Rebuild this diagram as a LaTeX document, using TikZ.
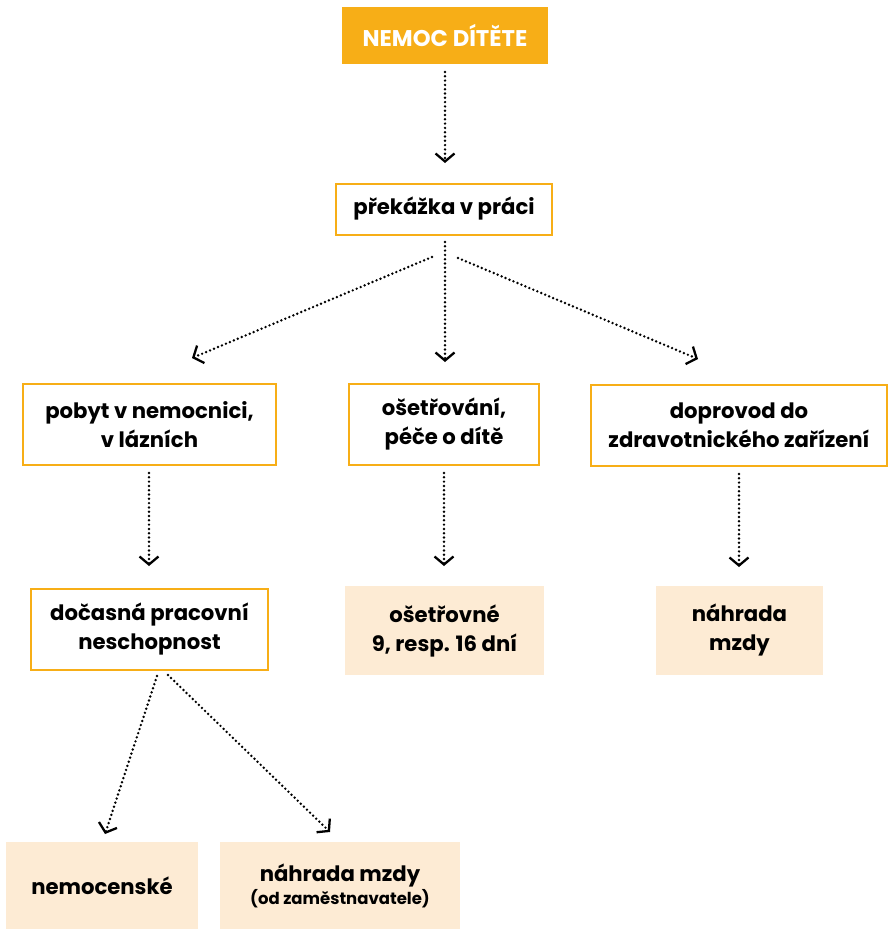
\documentclass[tikz,border=0pt]{standalone}
\usepackage{fontspec}
\setmainfont{Poppins}
\usetikzlibrary{arrows.meta}
\definecolor{orng}{HTML}{F7AE17}
\definecolor{peach}{HTML}{FDEBD4}
\begin{document}
\begin{tikzpicture}[x=1pt,y=-1pt,
  base/.style={inner sep=0pt, align=center, font=\bfseries\fontsize{21.2}{29}\selectfont},
  obox/.style={base, draw=orng, line width=2pt, fill=white},
  fbox/.style={base, fill=peach},
  tbox/.style={base, fill=orng, text=white, font=\bfseries\fontsize{22.7}{28}\selectfont},
  arr/.style={line width=2.7pt, line cap=round, dash pattern=on 0pt off 4.3pt,
     -{Straight Barb[length=8pt,width=19pt,line width=2.3pt,line cap=butt]}}]
\useasboundingbox (0,0) rectangle (889,929);
\fill[white] (0,0) rectangle (889,929);
\node[tbox, minimum width=206, minimum height=57] (nemoc) at (445,35.5) {NEMOC DÍTĚTE};
\node[obox, minimum width=216, minimum height=51] (prek) at (444,209) {překážka v práci};
\node[obox, minimum width=253, minimum height=81] (pobyt) at (149.5,424.5) {pobyt v nemocnici,\\v lázních};
\node[obox, minimum width=190, minimum height=81] (oset) at (444,424.5) {ošetřování,\\péče o dítě};
\node[obox, minimum width=296, minimum height=81] (dopr) at (739,425) {doprovod do\\zdravotnického zařízení};
\node[obox, minimum width=237, minimum height=81] (docas) at (149.5,629.5) {dočasná pracovní\\neschopnost};
\node[fbox, minimum width=199, minimum height=89] (osetne) at (444.5,630.5) {ošetřovné\\9, resp. 16 dní};
\node[fbox, minimum width=167, minimum height=89] (nahr) at (739.5,630.5) {náhrada\\mzdy};
\node[fbox, minimum width=192, minimum height=87] (nemcen) at (102,885.5) {nemocenské};
\node[fbox, minimum width=240, minimum height=87] (nahr2) at (340,885.5) {náhrada mzdy\\[-6pt]{\fontsize{16.5}{20}\selectfont (od zaměstnavatele)}};

\coordinate (a1s) at (445,72); \coordinate (a1e) at (445,163);
\draw[arr] (nemoc.south |- a1s) -- (a1e);
\coordinate (bcs) at (445,242); \coordinate (bce) at (445,362);
\draw[arr] (bcs) -- (bce);
\coordinate (bls) at (432,257); \coordinate (ble) at (192,358);
\draw[arr] (bls) -- (ble);
\coordinate (brs) at (458,258); \coordinate (bre) at (698,359);
\draw[arr] (brs) -- (bre);
\coordinate (c1s) at (149,473); \coordinate (c1e) at (149,566);
\draw[arr] (c1s) -- (c1e);
\coordinate (c2s) at (444,473); \coordinate (c2e) at (444,566);
\draw[arr] (c2s) -- (c2e);
\coordinate (c3s) at (739,474); \coordinate (c3e) at (739,567);
\draw[arr] (c3s) -- (c3e);
\coordinate (d1s) at (157,676); \coordinate (d1e) at (105,834);
\draw[arr] (d1s) -- (d1e);
\coordinate (d2s) at (168,675); \coordinate (d2e) at (330,832);
\draw[arr] (d2s) -- (d2e);
\end{tikzpicture}
\end{document}
